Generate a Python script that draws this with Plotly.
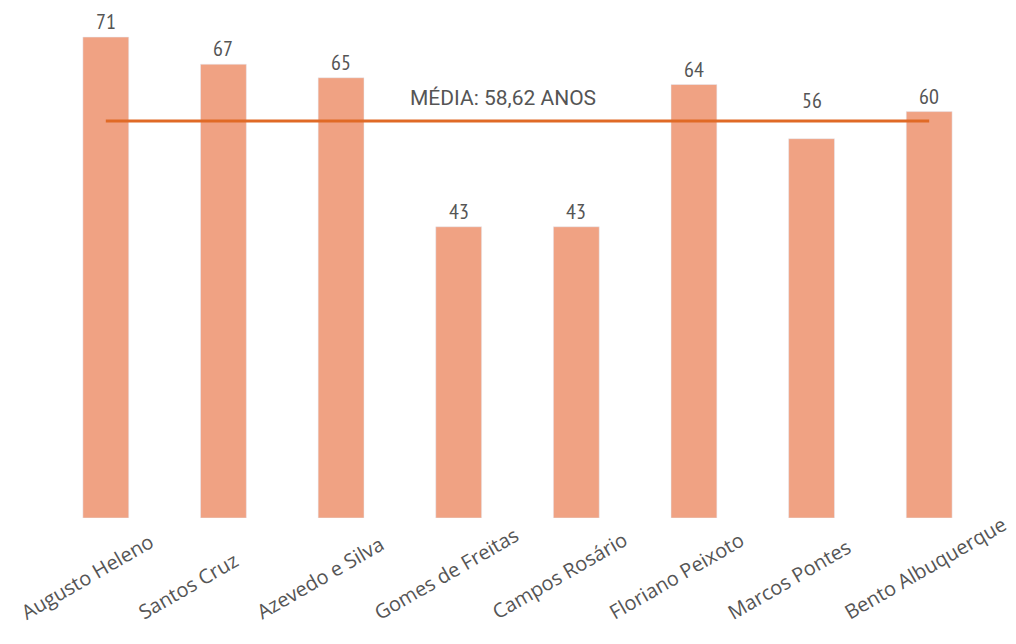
import plotly.graph_objects as go

names = ["Augusto Heleno", "Santos Cruz", "Azevedo e Silva", "Gomes de Freitas",
         "Campos Rosário", "Floriano Peixoto", "Marcos Pontes", "Bento Albuquerque"]
ages = [71, 67, 65, 43, 43, 64, 56, 60]
mean_age = 58.62
mean_label = "MÉDIA: 58,62 ANOS"

bar_color = "#F0A283"
line_color = "#E06A26"
text_color = "#555555"
num_font = "PT Sans Narrow, Liberation Sans Narrow, DejaVu Sans Condensed, sans-serif"

fig = go.Figure()
fig.add_trace(go.Bar(x=names, y=ages, marker_color=bar_color, width=0.39,
                     hoverinfo="x+y"))
fig.add_trace(go.Scatter(x=[names[0], names[-1]], y=[mean_age, mean_age], mode="lines",
                         line=dict(color=line_color, width=3), hoverinfo="skip"))

for n, v in zip(names, ages):
    near_mean = abs(v - mean_age) < 4
    y = max(v, mean_age) if near_mean else v
    shift = 21 if (near_mean and v < mean_age) else 16
    fig.add_annotation(x=n, y=y, text=str(v), showarrow=False, yshift=shift,
                       font=dict(family=num_font, size=22, color=text_color))

# rotated category labels
for n in names:
    fig.add_annotation(x=n, y=0, yref="paper", text=n, showarrow=False,
                       textangle=-30, xanchor="left", yanchor="bottom",
                       xshift=-92, yshift=-110,
                       font=dict(family="Open Sans, sans-serif", size=20, color=text_color))

fig.add_annotation(x=3.38, y=mean_age, text=mean_label, showarrow=False, yshift=23,
                   font=dict(family="Roboto, sans-serif", size=21, color=text_color))

fig.update_layout(
    width=1016, height=644,
    margin=dict(l=39, r=36, t=2, b=134),
    paper_bgcolor="white", plot_bgcolor="white",
    showlegend=False,
    xaxis=dict(range=[-0.5, 7.5], showticklabels=False, showgrid=False, showline=False,
               zeroline=False, automargin=False),
    yaxis=dict(range=[0, 75], visible=False, showgrid=False, zeroline=False,
               automargin=False),
)

fig.write_html("out.html")
